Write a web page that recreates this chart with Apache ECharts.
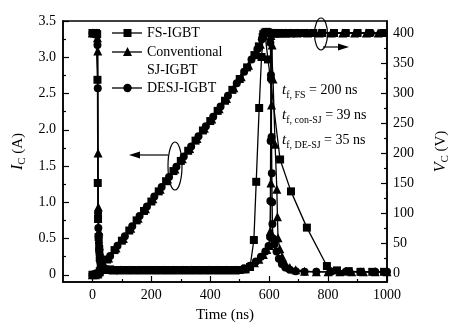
<!DOCTYPE html>
<html><head><meta charset="utf-8">
<script src="https://cdn.jsdelivr.net/npm/echarts@6/dist/echarts.min.js"></script>
<style>html,body{margin:0;padding:0;background:#fff}#c{width:465px;height:329px}</style>
</head><body><div id="c"></div>
<script>
const FONT = '"Liberation Serif","Times New Roman",serif';
const seriesNames = ['FS-IGBT', 'Conventional SJ-IGBT', 'DESJ-IGBT'];
const xTickLabels = [0, 200, 400, 600, 800, 1000];
const xMinorTicks = [100, 300, 500, 700, 900];
const icTickLabels = [0, 0.5, 1, 1.5, 2, 2.5, 3, 3.5];
const icMinorTicks = [0.25, 0.75, 1.25, 1.75, 2.25, 2.75, 3.25];
const vcTickLabels = [0, 50, 100, 150, 200, 250, 300, 350, 400];
const vcMinorTicks = [25, 75, 125, 175, 225, 275, 325, 375];

// [time (ns), I_C (A)]
const fsIc = [[0,0],[8,0],[15,0.01],[20,0.02],[25,0.05],[30,0.09],[50,0.21],[75,0.34],[100,0.47],[125,0.61],[150,0.75],[175,0.88],[200,1.01],[225,1.15],[250,1.29],[275,1.43],[300,1.57],[325,1.71],[350,1.85],[375,1.99],[400,2.12],[425,2.26],[450,2.40],[475,2.55],[500,2.70],[525,2.86],[550,3.03],[565,3.15],[578,3.28],[585,3.34],[590,3.35],[596,2.97],[637,1.59],[674,1.15],[728,0.65],[796,0.12],[830,0.06],[870,0.05],[910,0.04],[950,0.04],[990,0.04]];
const sjIc = [[0,0],[10,0],[18,0.01],[24,0.04],[32,0.1],[55,0.23],[80,0.37],[105,0.5],[130,0.64],[155,0.78],[180,0.91],[205,1.05],[230,1.18],[255,1.32],[280,1.46],[305,1.6],[330,1.74],[355,1.88],[380,2.02],[405,2.15],[430,2.29],[455,2.43],[480,2.58],[505,2.73],[530,2.89],[555,3.06],[570,3.18],[582,3.3],[590,3.35],[600,3.35],[606,3.3],[613,2.7],[620,1.8],[626,1.18],[628,0.8],[630,0.51],[636,0.36],[645,0.24],[656,0.15],[670,0.1],[690,0.07],[720,0.05],[760,0.04],[800,0.04],[840,0.04],[880,0.04],[920,0.04],[960,0.04],[1000,0.04]];
const deIc = [[0,0],[12,0],[20,0.02],[27,0.06],[35,0.12],[60,0.26],[85,0.4],[110,0.53],[135,0.67],[160,0.81],[185,0.94],[210,1.08],[235,1.21],[260,1.35],[285,1.49],[310,1.63],[335,1.77],[360,1.91],[385,2.05],[410,2.18],[435,2.32],[460,2.47],[490,2.64],[515,2.8],[540,2.97],[560,3.11],[575,3.25],[586,3.33],[594,3.35],[601,3.35],[604,3.2],[606,2.7],[608,1.9],[609,1.4],[610,1.0],[611,0.7],[613,0.5],[618,0.42],[625,0.32],[633,0.22],[643,0.15],[655,0.1],[670,0.07],[690,0.05],[720,0.04],[760,0.04],[810,0.04],[860,0.04],[910,0.04],[960,0.04],[1000,0.04]];

// [time (ns), V_C (V)]
const fsVc = [[0,400],[6,400],[12,400],[16,398],[17,322],[18,150],[19,90],[21,60],[23,40],[25,25],[28,14],[32,8],[40,6],[60,6],[85,5],[110,5],[140,5],[170,5],[200,5],[230,5],[260,5],[290,5],[320,5],[350,5],[380,5],[410,5],[440,5],[470,5],[500,5],[520,6],[535,10],[548,55],[556,152],[566,275],[574,360],[580,398],[588,400],[596,400],[604,400],[612,400],[620,400],[630,400],[640,400],[655,400],[670,400],[690,400],[720,400],[750,400],[780,400],[820,400],[860,400],[900,400],[940,400],[987,400]];
const sjVc = [[0,400],[7,400],[13,400],[17,392],[18,370],[19,200],[20,110],[22,70],[24,45],[26,28],[29,16],[34,9],[45,6],[70,5],[95,5],[125,5],[155,5],[185,5],[215,5],[245,5],[275,5],[305,5],[335,5],[365,5],[395,5],[425,5],[455,5],[485,5],[510,7],[530,11],[550,17],[565,23],[580,31],[592,39],[600,46],[604,70],[606,150],[608,280],[610,380],[613,400],[620,400],[630,400],[642,400],[656,400],[672,400],[695,400],[730,400],[770,400],[810,400],[850,400],[890,400],[930,400],[970,400]];
const deVc = [[0,400],[5,400],[11,400],[15,400],[17,380],[18,308],[19,100],[20,75],[21,60],[22,50],[23,40],[24,32],[25,25],[27,18],[30,12],[35,8],[50,6],[75,5],[100,5],[130,5],[160,5],[190,5],[220,5],[250,5],[280,5],[310,5],[340,5],[370,5],[400,5],[430,5],[460,5],[490,5],[515,8],[535,12],[555,19],[572,27],[587,36],[598,45],[603,60],[604,120],[605,220],[606,330],[608,400],[615,400],[625,400],[636,400],[648,400],[662,400],[680,400],[705,400],[740,400],[780,400],[820,400],[860,400],[900,400],[945,400]];

const chart = echarts.init(document.getElementById('c'), null, {renderer: 'canvas'});
const black = '#000';
function mk(name, data, sym, yIdx) {
  return {
    type: 'line', name: name, data: data, yAxisIndex: yIdx, xAxisIndex: 0,
    symbol: sym, symbolSize: sym === 'triangle' ? 9 : 8, showAllSymbol: true,
    lineStyle: {color: black, width: 1.3}, itemStyle: {color: black},
    animation: false, silent: true
  };
}
const txt = {color: black, fontFamily: FONT, fontSize: 14};
const axisLine = {show: true, onZero: false, lineStyle: {color: black, width: 1.5}};
function mainX() {
  return {type: 'value', min: -100, max: 1000, position: 'bottom', gridIndex: 0,
    axisLine: axisLine,
    axisTick: {show: true, inside: true, length: 6, customValues: xTickLabels, lineStyle: {color: black, width: 1.2}},
    axisLabel: Object.assign({customValues: xTickLabels, margin: 6, formatter: function (v) { return String(v); }}, txt),
    splitLine: {show: false},
    name: 'Time (ns)', nameLocation: 'middle', nameGap: 26,
    nameTextStyle: {color: black, fontFamily: FONT, fontSize: 15}};
}
function minorX() {
  return {type: 'value', min: -100, max: 1000, position: 'bottom', gridIndex: 0,
    axisLine: {show: false, onZero: false},
    axisTick: {show: true, inside: true, length: 3, customValues: xMinorTicks, lineStyle: {color: black, width: 1.2}},
    axisLabel: {show: false}, splitLine: {show: false}};
}
const nameRich = {
  i: {fontFamily: FONT, fontSize: 16, fontStyle: 'italic', color: black, lineHeight: 20},
  s: {fontFamily: FONT, fontSize: 11, color: black, lineHeight: 11, verticalAlign: 'bottom'},
  n: {fontFamily: FONT, fontSize: 15, color: black, lineHeight: 20}
};
const option = {
  animation: false,
  backgroundColor: '#fff',
  grid: {left: 63, right: 78, top: 21, bottom: 47, show: true, borderColor: black, borderWidth: 1.5, containLabel: false},
  xAxis: [mainX(), minorX()],
  yAxis: [
    {type: 'value', min: -0.1, max: 3.5, position: 'left',
      axisLine: axisLine,
      axisTick: {show: true, inside: true, length: 6, customValues: icTickLabels, lineStyle: {color: black, width: 1.2}},
      axisLabel: Object.assign({customValues: icTickLabels, margin: 7, formatter: function (v) { return v === 0 ? '0' : v.toFixed(1); }}, txt),
      splitLine: {show: false},
      name: '{i|I}{s|C}{n| (A)}', nameLocation: 'middle', nameGap: 30, nameRotate: 90,
      nameTextStyle: {rich: nameRich}},
    {type: 'value', min: -15, max: 420, position: 'right',
      axisLine: axisLine,
      axisTick: {show: true, inside: true, length: 6, customValues: vcTickLabels, lineStyle: {color: black, width: 1.2}},
      axisLabel: Object.assign({customValues: vcTickLabels, margin: 6}, txt),
      splitLine: {show: false},
      name: '{i|V}{s|C}{n| (V)}', nameLocation: 'middle', nameGap: 44, nameRotate: 90,
      nameTextStyle: {rich: nameRich}},
    {type: 'value', min: -0.1, max: 3.5, position: 'left',
      axisLine: {show: false, onZero: false},
      axisTick: {show: true, inside: true, length: 3, customValues: icMinorTicks, lineStyle: {color: black, width: 1.2}},
      axisLabel: {show: false}, splitLine: {show: false}},
    {type: 'value', min: -15, max: 420, position: 'right',
      axisLine: {show: false, onZero: false},
      axisTick: {show: true, inside: true, length: 3, customValues: vcMinorTicks, lineStyle: {color: black, width: 1.2}},
      axisLabel: {show: false}, splitLine: {show: false}}
  ],
  series: [
    mk(seriesNames[0], fsIc, 'rect', 0),
    mk(seriesNames[1], sjIc, 'triangle', 0),
    mk(seriesNames[2], deIc, 'circle', 0),
    mk(seriesNames[0], fsVc, 'rect', 1),
    mk(seriesNames[1], sjVc, 'triangle', 1),
    mk(seriesNames[2], deVc, 'circle', 1)
  ]
};
chart.setOption(option);

// legend, annotations (graphic)
const g = [];
const legRows = [
  {y: 33, sym: 'rect', lines: ['FS-IGBT']},
  {y: 52, sym: 'triangle', lines: ['Conventional', 'SJ-IGBT']},
  {y: 88, sym: 'circle', lines: ['DESJ-IGBT']}
];
legRows.forEach(function (r) {
  g.push({type: 'line', shape: {x1: 112, y1: r.y, x2: 142, y2: r.y}, style: {stroke: black, lineWidth: 1.3}});
  if (r.sym === 'rect') g.push({type: 'rect', shape: {x: 123.5, y: r.y - 4, width: 8, height: 8}, style: {fill: black}});
  if (r.sym === 'triangle') g.push({type: 'polygon', shape: {points: [[127.5, r.y - 5], [132, r.y + 4], [123, r.y + 4]]}, style: {fill: black}});
  if (r.sym === 'circle') g.push({type: 'circle', shape: {cx: 127.5, cy: r.y, r: 4.2}, style: {fill: black}});
  r.lines.forEach(function (t, k) {
    g.push({type: 'text', style: {text: t, x: 147, y: r.y + k * 18, fill: black, font: '14px ' + FONT, verticalAlign: 'middle'}});
  });
});
const ann = [
  {y: 90, sub: 'f, FS', val: ' = 200 ns'},
  {y: 115, sub: 'f, con-SJ', val: ' = 39 ns'},
  {y: 140, sub: 'f, DE-SJ', val: ' = 35 ns'}
];
const annRich = {
  t: {fontFamily: FONT, fontSize: 15, fontStyle: 'italic', fill: black, lineHeight: 20},
  s: {fontFamily: FONT, fontSize: 10, fill: black, lineHeight: 10, verticalAlign: 'bottom'},
  n: {fontFamily: FONT, fontSize: 14, fill: black, lineHeight: 20}
};
ann.forEach(function (a) {
  g.push({type: 'text', style: {text: '{t|t}{s|' + a.sub + '}{n|' + a.val + '}', x: 282, y: a.y, rich: annRich, verticalAlign: 'middle', fill: black, font: '14px ' + FONT}});
});
// ellipses and arrows
g.push({type: 'ellipse', shape: {cx: 175, cy: 166, rx: 7, ry: 24}, style: {stroke: black, fill: null, lineWidth: 1.2}});
g.push({type: 'line', shape: {x1: 168, y1: 155, x2: 138, y2: 155}, style: {stroke: black, lineWidth: 1.2}});
g.push({type: 'polygon', shape: {points: [[129, 155], [140, 151.5], [140, 158.5]]}, style: {fill: black}});
g.push({type: 'ellipse', shape: {cx: 321, cy: 34, rx: 6.5, ry: 16}, style: {stroke: black, fill: null, lineWidth: 1.2}});
g.push({type: 'line', shape: {x1: 323, y1: 47, x2: 340, y2: 47}, style: {stroke: black, lineWidth: 1.2}});
g.push({type: 'polygon', shape: {points: [[349, 47], [338, 43.5], [338, 50.5]]}, style: {fill: black}});
chart.setOption({graphic: g.map(function (e) { e.silent = true; e.z = 100; return e; })});
</script></body></html>
